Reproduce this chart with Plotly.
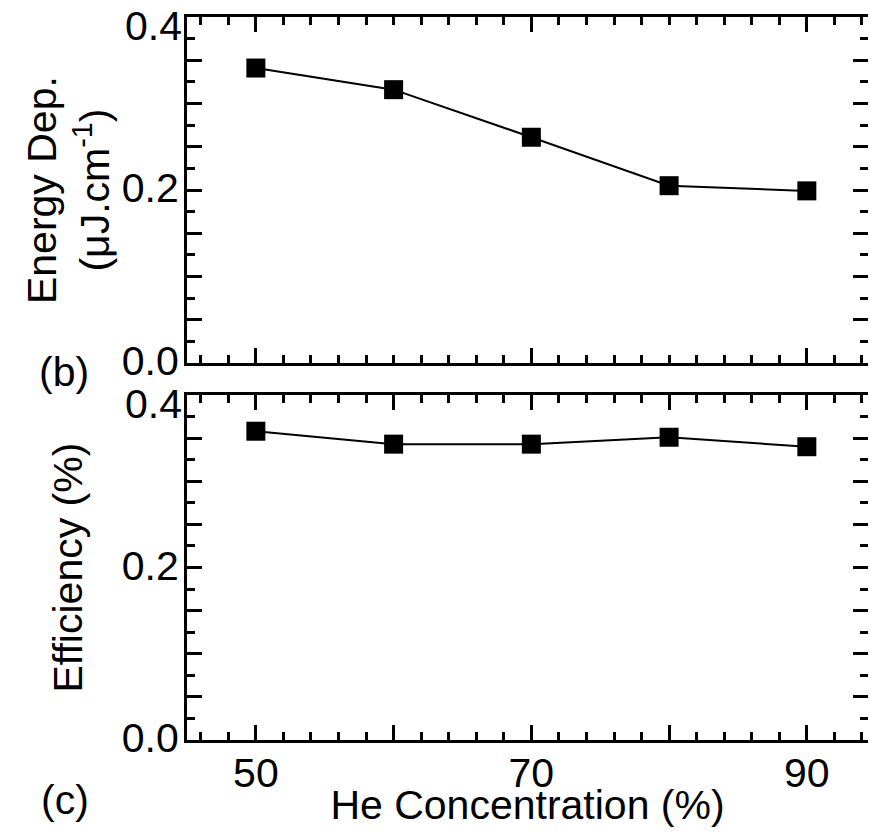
import plotly.graph_objects as go

he_conc = [50, 60, 70, 80, 90]
energy_dep = [0.341, 0.316, 0.261, 0.205, 0.199]
efficiency = [0.358, 0.343, 0.343, 0.351, 0.340]

x_tickvals = [50, 60, 70, 80, 90]
x_ticktext = ["50", "", "70", "", "90"]
y_tickvals = [0, 0.05, 0.1, 0.15, 0.2, 0.25, 0.3, 0.35, 0.4]
y_ticktext = ["0.0", "", "", "", "0.2", "", "", "", ""]
y_top_label = "0.4"

FONT = "Liberation Sans, Arial, sans-serif"
FS = 41
TICKW = 2.5

fig = go.Figure()
fig.add_trace(go.Scatter(x=he_conc, y=energy_dep, mode="lines+markers",
                         line=dict(color="black", width=2),
                         marker=dict(symbol="square", size=19, color="black"),
                         xaxis="x", yaxis="y", showlegend=False))
fig.add_trace(go.Scatter(x=he_conc, y=efficiency, mode="lines+markers",
                         line=dict(color="black", width=2),
                         marker=dict(symbol="square", size=19, color="black"),
                         xaxis="x2", yaxis="y2", showlegend=False))

def xax(show_labels, anchor):
    return dict(range=[45, 94.44], tickmode="array", tickvals=x_tickvals,
                ticktext=x_ticktext, showticklabels=show_labels,
                ticks="inside", ticklen=15, tickwidth=TICKW, tickcolor="black",
                showline=True, linecolor="black", linewidth=3, mirror="allticks",
                showgrid=False, zeroline=False, anchor=anchor,
                automargin=False, ticklabelstandoff=-5,
                minor=dict(dtick=2, tick0=0, ticks="inside", ticklen=8,
                           tickwidth=TICKW, tickcolor="black", showgrid=False),
                tickfont=dict(family=FONT, size=FS, color="black"))

def yax(domain, anchor):
    return dict(range=[0, 0.4], domain=domain, tickmode="array",
                tickvals=y_tickvals, ticktext=y_ticktext,
                ticks="inside", ticklen=15, tickwidth=TICKW, tickcolor="black",
                showline=True, linecolor="black", linewidth=3, mirror="allticks",
                showgrid=False, zeroline=False, anchor=anchor,
                automargin=False, ticklabelstandoff=-3, ticklabelshift=-2,
                ticklabeloverflow="allow",
                minor=dict(dtick=0.025, tick0=0, ticks="inside", ticklen=8,
                           tickwidth=TICKW, tickcolor="black", showgrid=False),
                tickfont=dict(family=FONT, size=FS, color="black"))

top_dom = [0.5214, 1.0]
bot_dom = [0.0, 0.4772]

# the page body adds an 8px margin all round, so the figure fills what is left
fig.update_layout(
    width=860, height=820,
    margin=dict(l=179, r=0, t=9, b=88),
    paper_bgcolor="white", plot_bgcolor="white",
    font=dict(family=FONT, size=FS, color="black"),
    xaxis=xax(False, "y"),
    yaxis=yax(top_dom, "x"),
    xaxis2=xax(True, "y2"),
    yaxis2=yax(bot_dom, "x2"),
)
fig.layout.xaxis2.title = dict(text="He Concentration (%)",
                               font=dict(family=FONT, size=FS), standoff=15)

# "0.4" labels at the top of each panel (set slightly below the tick, as in the original)
for yref in ["y", "y2"]:
    fig.add_annotation(text=y_top_label, xref="paper", yref=yref, x=0, y=0.4,
                       xanchor="right", yanchor="middle", xshift=-3, yshift=-9,
                       showarrow=False, font=dict(family=FONT, size=FS, color="black"))

fig.add_annotation(text="Energy Dep.<br>(μJ.cm<sup>-1</sup>)", xref="paper", yref="paper",
                   x=-0.1747, y=0.7607, textangle=-90, showarrow=False,
                   xanchor="center", yanchor="middle",
                   font=dict(family=FONT, size=FS, color="black"))
fig.add_annotation(text="Efficiency (%)", xref="paper", yref="paper",
                   x=-0.1747, y=0.2386, textangle=-90, showarrow=False,
                   xanchor="center", yanchor="middle",
                   font=dict(family=FONT, size=FS, color="black"))
fig.add_annotation(text="(b)", xref="paper", yref="paper",
                   x=-0.1806, y=0.509, showarrow=False,
                   xanchor="center", yanchor="middle",
                   font=dict(family=FONT, size=FS, color="black"))
fig.add_annotation(text="(c)", xref="paper", yref="paper",
                   x=-0.1791, y=-0.083, showarrow=False,
                   xanchor="center", yanchor="middle",
                   font=dict(family=FONT, size=FS, color="black"))

fig.write_html("out.html")
